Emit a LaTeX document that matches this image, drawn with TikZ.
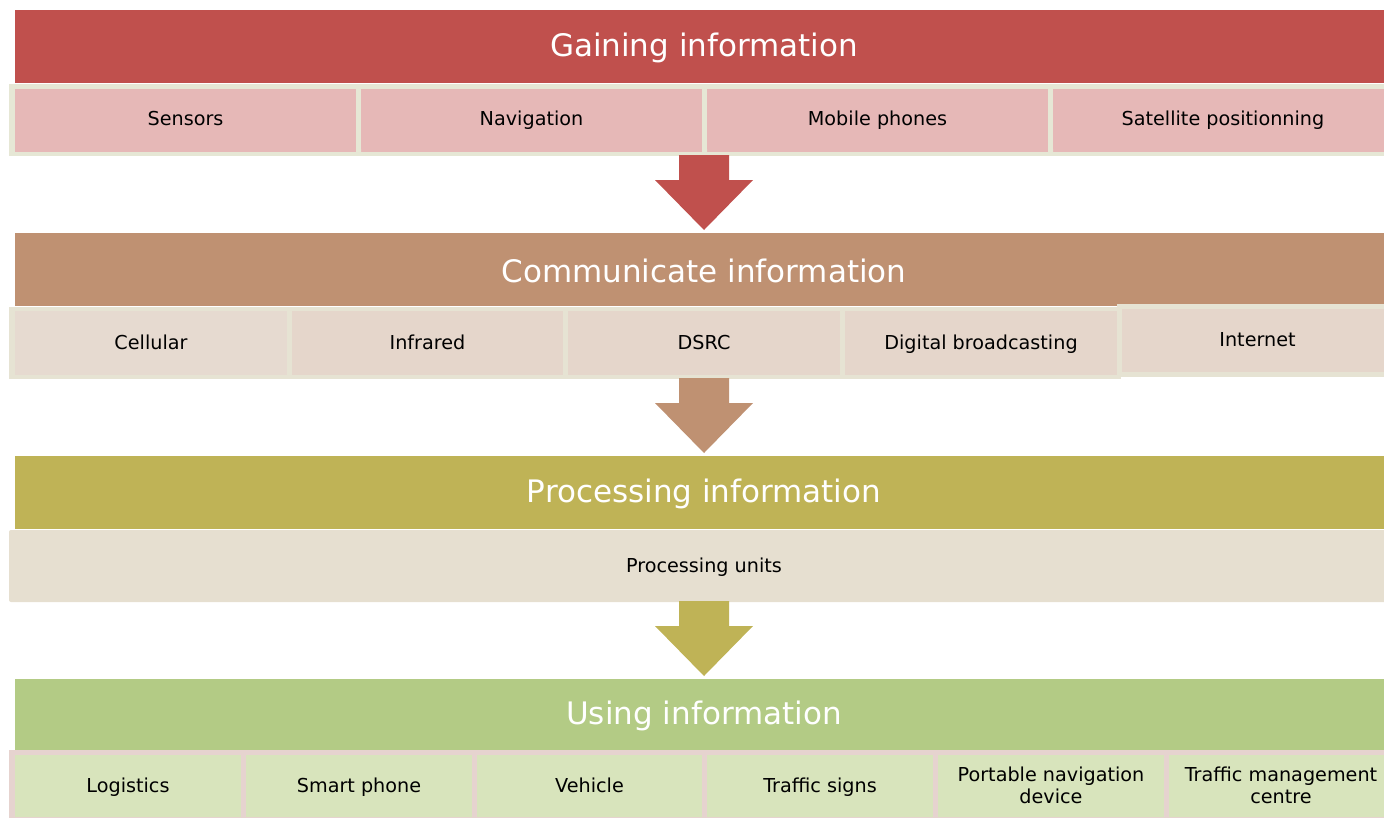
\documentclass[tikz,border=0pt]{standalone}
\usepackage{fontspec}
\setmainfont{DejaVu Sans}
\usetikzlibrary{calc}
\definecolor{redbar}{HTML}{C0504D}
\definecolor{redcell}{HTML}{E6B8B7}
\definecolor{frameA}{HTML}{E6E7D5}
\definecolor{brownbar}{HTML}{BF9172}
\definecolor{browncell}{HTML}{E5D6CB}
\definecolor{browncellA}{HTML}{E6DAD0}
\definecolor{frameB}{HTML}{E6E3D3}
\definecolor{olivebar}{HTML}{BFB356}
\definecolor{olivecell}{HTML}{E6DFD0}
\definecolor{greenbar}{HTML}{B3CB85}
\definecolor{greencell}{HTML}{D8E4BC}
\definecolor{frameD}{HTML}{E6D3CF}
\newcommand\mystrut{\rule[-4.4pt]{0pt}{21.6pt}}
\newcommand\mybox[7]{\node[boxcell=#6, minimum width=#4pt, minimum height=#5pt] (#1) at (#2,#3) {\mystrut #7};}
\newcommand\blockarrow[3]{\fill[#1] let \p1=(#2), \p2=(#3) in
  (\x1-25pt,\y1) -- (\x1+25pt,\y1) -- (\x1+25pt,\y2+50pt) -- (\x1+49pt,\y2+50pt) --
  (\x1,\y2) -- (\x1-49pt,\y2+50pt) -- (\x1-25pt,\y2+50pt) -- cycle;}
\begin{document}
\begin{tikzpicture}[x=1pt,y=-1pt,
  boxcell/.style={fill=#1, draw=none, inner sep=0pt, outer sep=0pt, anchor=north west,
    font=\fontsize{19.2}{21}\selectfont, align=center, text=black},
  bartext/.style={text=white, font=\fontsize{31}{36}\selectfont}]
\useasboundingbox (0,0) rectangle (1384,817);
% ---------- Gaining information
\mybox{bar1}{15}{10}{1378}{73}{redbar}{}
\node[bartext] (t1) at (704,48) {Gaining information};
\mybox{frame1}{9}{84}{1384}{72}{frameA}{}
\mybox{c11}{15}{89}{341}{60}{redcell}{Sensors}
\mybox{c12}{361}{89}{341}{60}{redcell}{Navigation}
\mybox{c13}{707}{89}{341}{60}{redcell}{Mobile phones}
\mybox{c14}{1053}{89}{340}{60}{redcell}{Satellite positionning}
\fill[redcell] (15,149) rectangle (1393,152);
\fill[frameA] (356,149) rectangle (361,152) (702,149) rectangle (707,152) (1048,149) rectangle (1053,152);
\coordinate (a1s) at (704,155);
\coordinate (a1e) at (704,230);
\blockarrow{redbar}{a1s}{a1e}
% ---------- Communicate information
\mybox{bar2}{15}{233}{1378}{73}{brownbar}{}
\node[bartext] (t2) at (704,271) {Communicate information};
\mybox{frame2}{9}{307}{1112}{72}{frameB}{}
\mybox{c21}{15}{311}{272}{64}{browncellA}{Cellular}
\mybox{c22}{292}{311}{271}{64}{browncell}{Infrared}
\mybox{c23}{568}{311}{272}{64}{browncell}{DSRC}
\mybox{c24}{845}{311}{272}{64}{browncell}{Digital broadcasting}
\mybox{frame2b}{1117}{304}{276}{73}{frameB}{}
\mybox{c25}{1122}{309}{271}{63}{browncell}{Internet}
\coordinate (a2s) at (704,378);
\coordinate (a2e) at (704,453);
\blockarrow{brownbar}{a2s}{a2e}
% ---------- Processing information
\mybox{bar3}{15}{456}{1378}{73}{olivebar}{}
\node[bartext] (t3) at (704,494) {Processing information};
\node[boxcell=olivecell, rounded corners=2pt, minimum width=1384pt, minimum height=72pt] (c31) at (9,530) {};
\node[font=\fontsize{19.2}{21}\selectfont, inner sep=0pt] (t31) at (704,566) {\mystrut Processing units};
\coordinate (a3s) at (704,601);
\coordinate (a3e) at (704,676);
\blockarrow{olivebar}{a3s}{a3e}
% ---------- Using information
\mybox{bar4}{15}{679}{1378}{72}{greenbar}{}
\node[bartext] (t4) at (704,716) {Using information};
\mybox{frame4}{9}{750}{1384}{72}{frameD}{}
\mybox{c41}{15}{755}{226}{62}{greencell}{Logistics}
\mybox{c42}{246}{755}{226}{62}{greencell}{Smart phone}
\mybox{c43}{477}{755}{225}{62}{greencell}{Vehicle}
\mybox{c44}{707}{755}{226}{62}{greencell}{Traffic signs}
\mybox{c45}{938}{755}{226}{62}{greencell}{Portable navigation\\\mystrut device}
\mybox{c46}{1169}{755}{224}{62}{greencell}{Traffic management\\\mystrut centre}
\end{tikzpicture}
\end{document}
